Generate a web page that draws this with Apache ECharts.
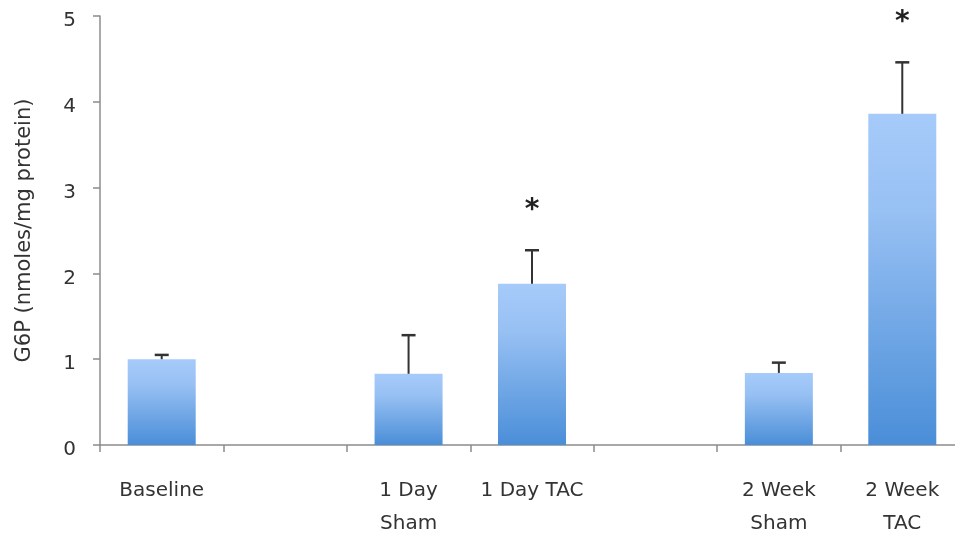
<!DOCTYPE html>
<html><head><meta charset="utf-8">
<script src="https://cdn.jsdelivr.net/npm/echarts@6/dist/echarts.min.js"></script>
<style>html,body{margin:0;padding:0;background:#fff}#c{width:955px;height:535px}</style>
</head><body><div id="c"></div>
<script>
var categories = ['Baseline', '', '1 Day\nSham', '1 Day TAC', '', '2 Week\nSham', '2 Week\nTAC'];
var means = [1.0, null, 0.83, 1.88, null, 0.84, 3.86];
var errorTops = [1.05, null, 1.28, 2.27, null, 0.96, 4.46];
var significance = ['', '', '', '*', '', '', '*'];
var yTicks = [0, 1, 2, 3, 4, 5];

var errData = [];
for (var i = 0; i < categories.length; i++) {
  if (means[i] !== null) errData.push([i, means[i], errorTops[i], significance[i]]);
}

var FONT = 'DejaVu Sans';
var chart = echarts.init(document.getElementById('c'));
chart.setOption({
  animation: false,
  textStyle: {fontFamily: FONT},
  grid: {left: 100, top: 16, width: 864, height: 429, outerBoundsMode: 'none', containLabel: false},
  xAxis: {
    type: 'category',
    data: categories,
    boundaryGap: true,
    axisLine: {lineStyle: {color: '#8c8c8c', width: 1.5}},
    axisTick: {show: true, length: 7, lineStyle: {color: '#8c8c8c', width: 1.5}},
    axisLabel: {color: '#333', fontSize: 20, fontFamily: FONT, margin: 29, lineHeight: 33, interval: 0}
  },
  yAxis: {
    type: 'value',
    min: yTicks[0], max: yTicks[yTicks.length - 1], interval: 1,
    name: 'G6P (nmoles/mg protein)',
    nameLocation: 'middle', nameGap: 65, nameRotate: 90,
    nameTextStyle: {color: '#333', fontSize: 21, fontFamily: FONT},
    axisLine: {show: true, lineStyle: {color: '#8c8c8c', width: 1.5}},
    axisTick: {show: true, length: 7, lineStyle: {color: '#8c8c8c', width: 1.5}},
    axisLabel: {color: '#333', fontSize: 20, fontFamily: FONT, margin: 24, verticalAlign: 'top', lineHeight: 10},
    splitLine: {show: false}
  },
  series: [{
    type: 'bar',
    data: means.map(function (v) { return v === null ? '-' : v; }),
    barWidth: 68,
    itemStyle: {
      color: new echarts.graphic.LinearGradient(0, 0, 0, 1, [
        {offset: 0, color: '#a6cbfa'},
        {offset: 0.3, color: '#97c0f3'},
        {offset: 1, color: '#4a8ed8'}
      ])
    }
  }, {
    type: 'custom',
    data: errData,
    z: 5,
    renderItem: function (params, api) {
      var x = api.value(0);
      var low = api.coord([x, api.value(1)]);
      var high = api.coord([x, api.value(2)]);
      var sig = api.value(3);
      var half = 7;
      var children = [
        {type: 'line', shape: {x1: low[0], y1: low[1], x2: high[0], y2: high[1]}, style: {stroke: '#333', lineWidth: 2}},
        {type: 'line', shape: {x1: high[0] - half, y1: high[1], x2: high[0] + half, y2: high[1]}, style: {stroke: '#333', lineWidth: 2.5}}
      ];
      if (sig) {
        children.push({type: 'text', style: {text: sig, x: high[0], y: high[1] - 40, align: 'center', verticalAlign: 'middle', fontSize: 28, fontWeight: 'bold', fill: '#222', fontFamily: FONT}});
      }
      return {type: 'group', children: children};
    }
  }]
});
</script></body></html>
